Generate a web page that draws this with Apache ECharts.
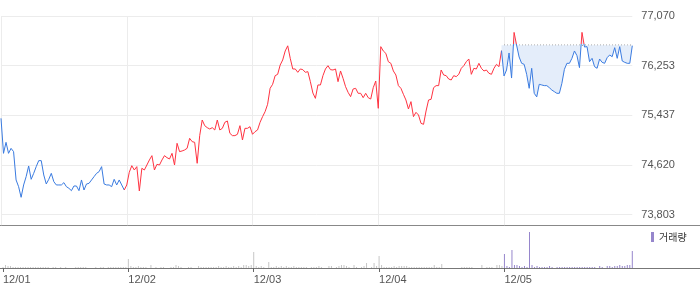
<!DOCTYPE html>
<html><head><meta charset="utf-8">
<script src="https://cdn.jsdelivr.net/npm/echarts@6/dist/echarts.min.js"></script>
<style>html,body{margin:0;padding:0;background:#fff}#c{width:700px;height:289px}</style>
</head><body><div id="c"></div>
<script>
// ---- data ----
const dayLabels = ['12/01', '12/02', '12/03', '12/04', '12/05'];
const yTicks = [73803, 74620, 75437, 76253, 77070];
const prevClose = 76590; // reference (previous close) of the last day
const day1 = [75388,74812,74993,74812,74894,74840,74374,74264,74089,74292,
  74429,74604,74385,74483,74593,74692,74692,74456,74308,74385,
  74483,74346,74292,74292,74292,74330,74264,74237,74198,74275,
  74275,74198,74374,74209,74308,74319,74374,74429,74483,74511,
  74593,74308,74292,74292,74264,74385,74292,74374,74292,74209];
const day2 = [74292,74500,74609,74538,74593,74193,74566,74538,74620,74703,
  74774,74538,74631,74620,74703,74774,74741,74719,74812,74620,
  74977,74840,74851,74867,74895,75059,75004,74993,74648,75103,
  75360,75267,75234,75212,75234,75196,75360,75196,75223,75322,
  75344,75141,75103,75103,75125,75267,75031,75223,75223,75250];
const day3 = [75125,75168,75196,75322,75415,75497,75618,75881,75947,76089,
  76111,76264,76347,76495,76580,76374,76199,76199,76144,76199,
  76188,76144,76155,75990,75804,75716,75936,75936,76089,76199,
  76253,76188,76182,76199,75990,76166,76045,75908,75815,75744,
  75870,75881,75799,75799,75727,75799,75727,75705,75892,76001];
const day4 = [75552,76566,76495,76456,76319,76292,76166,76100,75925,75881,
  75782,75689,75541,75662,75415,75486,75442,75305,75289,75508,
  75689,75700,75892,75925,75925,76182,76100,76089,76034,76018,
  76089,76073,76111,76210,76253,76319,76363,76111,76210,76199,
  76292,76210,76166,76182,76128,76111,76210,76275,76237,76500];
const day5 = [76084,76182,76462,76050,76800,76590,76396,76292,76275,76111,
  75881,76210,75799,75740,75947,75936,75925,75925,75892,75853,
  75826,75799,75799,75963,76193,76292,76292,76374,76495,76418,
  76221,76801,76560,76566,76319,76374,76237,76210,76363,76308,
  76292,76385,76429,76401,76549,76374,76566,76330,76308,76292,
  76292,76582];
// volume, thousand shares
const vol1 = [1,3,2,2,1,1,1,1,1,1, 1,1,1,1,1,1,1,1,1,0, 1,1,0,1,0,1,0,0,0,1, 1,1,1,1,0,0,0,1,0,1, 1,0,1,1,1,1,1,1,1,1];
const vol2 = [9,2,1,1,2,1,1,1,0,3, 0,1,0,1,1,0,0,1,1,3, 2,1,0,0,1,1,0,0,2,1, 1,1,1,1,1,1,2,1,1,2, 1,1,2,1,2,1,3,3,2,3];
const vol3 = [16,2,1,2,1,0,6,1,1,2, 1,2,1,2,1,1,2,1,1,1, 1,1,0,1,1,1,2,1,0,0, 2,2,0,1,2,3,3,2,1,0, 3,1,0,1,2,5,0,1,5,2];
const vol4 = [12,3,1,1,1,1,2,1,2,2, 2,2,1,1,1,1,1,1,1,1, 1,1,3,1,1,4,0,0,0,0, 0,0,0,1,1,1,1,1,0,0, 0,3,0,1,1,1,0,3,3,2];
const vol5 = [14,2,1,18,3,3,2,1,2,1, 36,3,1,2,1,1,1,1,2,1, 0,1,1,1,1,1,1,1,1,1, 1,1,1,1,1,1,1,0,2,1, 0,2,2,1,2,2,3,2,2,3, 3,17];

// ---- build ----
const PER_DAY = 50;
const days = [day1, day2, day3, day4, day5];
const vols = [vol1, vol2, vol3, vol4, vol5];
const prices = [].concat(...days);
const volumes = [].concat(...vols);
const categories = [];
const dayOfIndex = [];
days.forEach((d, di) => d.forEach((_, j) => { categories.push(dayLabels[di] + ' ' + j); dayOfIndex.push(di); }));
const N = prices.length;
const todayStart = PER_DAY * 4;
const isBoundary = (i) => i % PER_DAY === 0 && i <= todayStart;

const RED = '#ff3341', BLUE = '#3a7be0', GRAY_BAR = '#c6c6c6', PURPLE = '#9686cc';
const seg = (from, to) => prices.map((p, i) => (i >= from && i <= to ? p : null));
const volSeg = (from, to) => volumes.map((v, i) => (i >= from && i <= to && v > 0 ? v : null));
const baseline = prices.map((p, i) => (i >= todayStart ? prevClose : null));

// today's line: red above prevClose, blue below (gradient relative to the line's own value extent)
const todayVals = prices.slice(todayStart - 1);
const tMax = Math.max(...todayVals), tMin = Math.min(...todayVals);
const cut = Math.min(1, Math.max(0, (tMax - prevClose) / (tMax - tMin)));
const todayColor = new echarts.graphic.LinearGradient(0, 0, 0, 1, [
  { offset: 0, color: RED }, { offset: cut, color: RED },
  { offset: cut, color: BLUE }, { offset: 1, color: BLUE }
]);

const yMin = yTicks[0], yMax = yTicks[yTicks.length - 1];
const yInterval = (yMax - yMin) / (yTicks.length - 1);
const FONT = 'Liberation Sans, Arial, sans-serif';
const GRID_COLOR = '#ececec';

const hiddenAxisBase = { axisLine: { show: false }, axisTick: { show: false }, axisLabel: { show: false } };

const chart = echarts.init(document.getElementById('c'), null, { renderer: 'canvas' });
chart.setOption({
  animation: false,
  backgroundColor: '#fff',
  grid: [
    { left: 1, right: 67.7, top: 16, height: 198.7 },
    { left: 1, right: 67.7, top: 226, height: 42 },
    { left: 1, right: 67.7, top: 214.7, height: 10.5 }
  ],
  xAxis: [
    Object.assign({ type: 'category', gridIndex: 0, data: categories, boundaryGap: false,
      splitLine: { show: true, interval: isBoundary, lineStyle: { color: GRID_COLOR, width: 1 } } }, hiddenAxisBase),
    { type: 'category', gridIndex: 1, data: categories, boundaryGap: false,
      axisLine: { show: false },
      axisTick: { show: true, interval: isBoundary, length: 4, lineStyle: { color: '#666' } },
      axisLabel: { show: true, interval: isBoundary, align: 'left', margin: 6,
        formatter: (v, idx) => dayLabels[dayOfIndex[idx]],
        color: '#555', fontSize: 11, fontFamily: FONT },
      splitLine: { show: false } },
    Object.assign({ type: 'category', gridIndex: 2, data: categories, boundaryGap: false,
      splitLine: { show: true, interval: isBoundary, lineStyle: { color: GRID_COLOR, width: 1 } } }, hiddenAxisBase)
  ],
  yAxis: [
    { type: 'value', gridIndex: 0, position: 'right', min: yMin, max: yMax, interval: yInterval,
      axisLine: { show: false }, axisTick: { show: false },
      axisLabel: { margin: 9, color: '#555', fontSize: 11, fontFamily: FONT,
        formatter: (v) => {
          let best = yTicks[0];
          yTicks.forEach(t => { if (Math.abs(t - v) < Math.abs(best - v)) best = t; });
          return best.toLocaleString('en-US');
        } },
      splitLine: { show: true, lineStyle: { color: GRID_COLOR, width: 1 } } },
    { type: 'value', gridIndex: 1, min: 0, max: 42, show: false },
    { type: 'value', gridIndex: 2, min: 0, max: 1, show: false }
  ],
  legend: {
    data: ['거래량'], left: 651, top: 232, icon: 'rect', itemWidth: 3, itemHeight: 10,
    padding: 0, itemGap: 0, selectedMode: false,
    textStyle: { fontSize: 10, color: '#333', fontFamily: 'Noto Sans CJK KR' }
  },
  graphic: [
    { type: 'line', silent: true, shape: { x1: 0, y1: 225.5, x2: 700, y2: 225.5 }, style: { stroke: '#888', lineWidth: 1 } },
    { type: 'line', silent: true, shape: { x1: 0, y1: 268.5, x2: 700, y2: 268.5 }, style: { stroke: '#777', lineWidth: 1 } }
  ],
  series: [
    { name: 'day1', type: 'line', xAxisIndex: 0, yAxisIndex: 0, data: seg(0, PER_DAY - 1),
      showSymbol: false, symbol: 'none', lineStyle: { color: BLUE, width: 1 }, itemStyle: { color: BLUE } },
    { name: 'days2to4', type: 'line', xAxisIndex: 0, yAxisIndex: 0, data: seg(PER_DAY - 1, todayStart - 1),
      showSymbol: false, symbol: 'none', lineStyle: { color: RED, width: 1 }, itemStyle: { color: RED } },
    { name: 'today', type: 'line', xAxisIndex: 0, yAxisIndex: 0, data: seg(todayStart - 1, N - 1),
      showSymbol: false, symbol: 'none', lineStyle: { width: 1, color: todayColor }, z: 3,
      itemStyle: { color: BLUE },
      areaStyle: { color: '#e4edfa', opacity: 1, origin: prevClose } },
    { name: 'prevClose', type: 'line', xAxisIndex: 0, yAxisIndex: 0, data: baseline, silent: true,
      showSymbol: false, symbol: 'none', z: 2, lineStyle: { type: [1, 2], color: '#555', width: 1 } },
    { name: 'volPast', type: 'bar', xAxisIndex: 1, yAxisIndex: 1, data: volSeg(0, todayStart - 1),
      barWidth: 1, barGap: '-100%', itemStyle: { color: GRAY_BAR } },
    { name: '거래량', type: 'bar', xAxisIndex: 1, yAxisIndex: 1, data: volSeg(todayStart, N - 1),
      barWidth: 1, barGap: '-100%', itemStyle: { color: PURPLE } }
  ]
});
</script></body></html>
